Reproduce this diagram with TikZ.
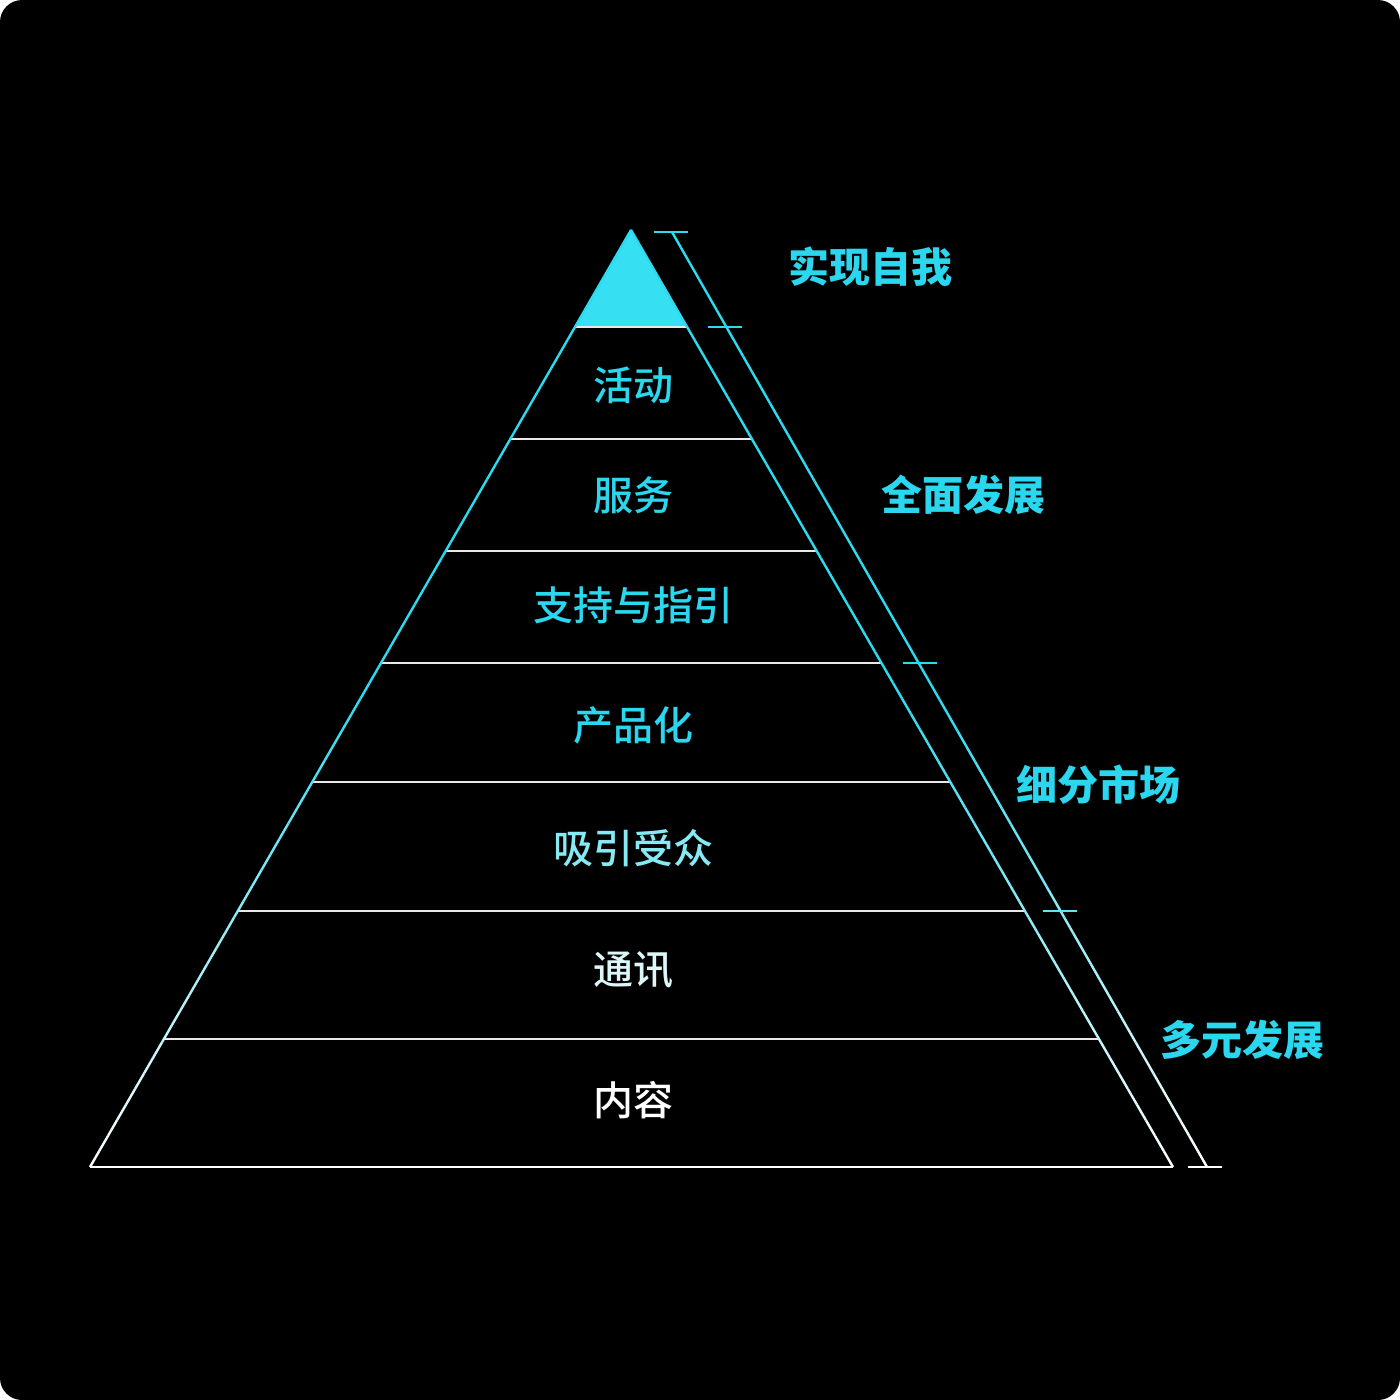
\documentclass[tikz,border=0pt]{standalone}
\usepackage{fontspec}
\newfontfamily\cjk{Noto Sans CJK SC}
\newfontfamily\cjkm{Noto Sans CJK SC Medium}
\definecolor{accent}{HTML}{2CDBF0}
\definecolor{accentfill}{HTML}{36DFF2}
\definecolor{sepline}{HTML}{E8E8E8}
\definecolor{txtA}{HTML}{2AD7EE}
\definecolor{txtB}{HTML}{86E9F3}
\definecolor{txtC}{HTML}{DDF6F8}
\definecolor{txtD}{HTML}{FFFFFF}

% a straight stroke whose colour fades from accent (upper part) to white (bottom)
\newcommand\fadeline[4]{%
  \foreach \k in {0,...,59}{%
    \pgfmathsetmacro\ta{\k/60}%
    \pgfmathsetmacro\tb{(\k+1)/60}%
    \pgfmathsetmacro\ym{#2+(\ta+\tb)/2*(#4-#2)}%
    \pgfmathsetmacro\pc{min(100,max(0,(1167-\ym)/4.67))}%
    \colorlet{segcol}{accent!\pc!white}%
    \draw[edge,segcol] ({#1+\ta*(#3-#1)},{#2+\ta*(#4-#2)}) -- ({#1+\tb*(#3-#1)},{#2+\tb*(#4-#2)});
  }}

\tikzset{
  edge/.style={line width=2.4pt},
  sep/.style={line width=2.2pt, draw=sepline},
  tick/.style={line width=2.4pt},
  layer/.style={font=\cjkm\fontsize{40}{40}\selectfont, inner sep=0pt, anchor=center},
  tag/.style={font=\cjk\bfseries\fontsize{41}{41}\selectfont, text=txtA, inner sep=0pt, anchor=center},
}

\begin{document}
\begin{tikzpicture}[x=1pt,y=-1pt]
  \useasboundingbox (0,0) rectangle (1400,1400);
  \fill[white] (0,0) rectangle (1400,1400);
  \fill[black, rounded corners=22pt] (0,0) rectangle (1400,1400);

  % pyramid outline points
  \coordinate (apex) at (631,230);
  \coordinate (bl) at (90,1167);
  \coordinate (br) at (1173,1167);

  % filled tip
  \fill[accentfill, draw=accentfill, line width=1pt] (apex) -- (575,327) -- (687,327) -- cycle;

  % layer separators
  \foreach \yl in {327,439,551,663,782,911,1039}{
    \pgfmathsetmacro\hw{0.5783*(\yl-230)}
    \draw[sep] ({631-\hw},\yl) -- ({631+\hw},\yl);
  }
  \draw[sep, draw=white] (bl) -- (br);

  % pyramid sides
  \fadeline{631}{230}{90}{1167}
  \fadeline{631}{230}{1173}{1167}

  % side bracket
  \fadeline{672}{232}{1207}{1167}
  \draw[tick, accent] (654,232) -- (688,232);
  \draw[tick, accent] (708,327) -- (742,327);
  \draw[tick, accent] (903,663) -- (937,663);
  \draw[tick, accent!75!white] (1043,911) -- (1077,911);
  \draw[tick, white] (1188,1167) -- (1222,1167);

  % layer labels
  \node[layer, text=txtA] (l1) at (633,385) {活动};
  \node[layer, text=txtA] (l2) at (633,495) {服务};
  \node[layer, text=txtA] (l3) at (633,605) {支持与指引};
  \node[layer, text=txtA] (l4) at (633,725) {产品化};
  \node[layer, text=txtB] (l5) at (633,848) {吸引受众};
  \node[layer, text=txtC] (l6) at (633,970) {通讯};
  \node[layer, text=txtD] (l7) at (633,1100) {内容};

  % stage labels
  \node[tag] (s1) at (870,267) {实现自我};
  \node[tag] (s2) at (963,495) {全面发展};
  \node[tag] (s3) at (1098,785) {细分市场};
  \node[tag] (s4) at (1242,1040) {多元发展};
\end{tikzpicture}
\end{document}
